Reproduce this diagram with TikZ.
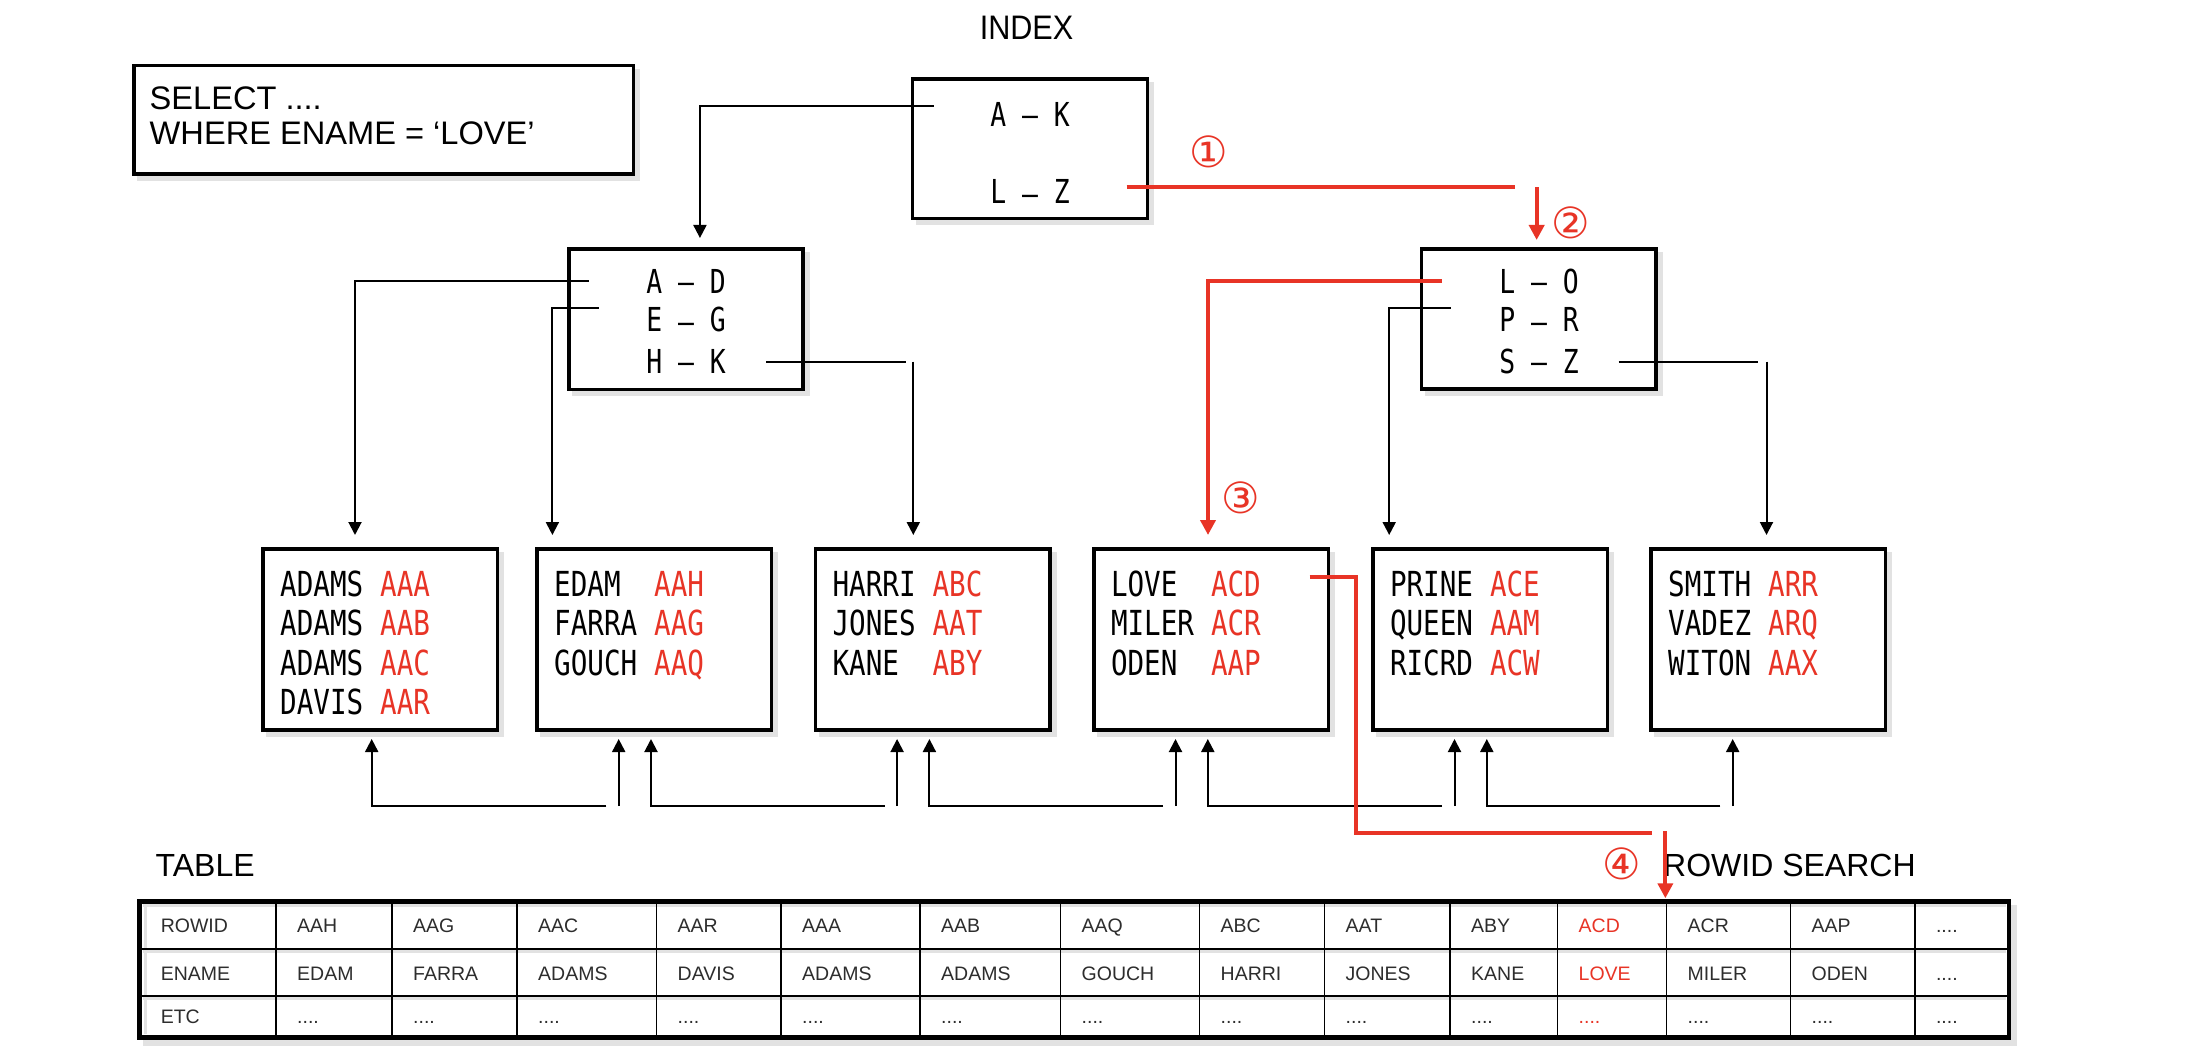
\documentclass[tikz,border=0pt]{standalone}
\usepackage{fontspec}
\setmainfont{Liberation Sans}
\newfontfamily\monof[FakeStretch=0.8]{DejaVu Sans Mono}
\newfontfamily\narrowf[FakeStretch=0.9]{Liberation Sans}
\newfontfamily\circf{DejaVu Sans}
\usetikzlibrary{arrows.meta,calc,shadows}
\definecolor{rd}{RGB}{232,52,38}
\definecolor{shd}{RGB}{226,226,226}
\definecolor{celltext}{RGB}{45,45,45}
\newcommand{\lowd}{\raisebox{-0.06em}{–}}
\newcommand{\dotsf}{....}
\newcommand{\leafrow}[5]{\node[mono] (#1) at (#2,#3) {\makebox[100pt][l]{#4}\textcolor{rd}{#5}};}
\begin{document}
\begin{tikzpicture}[x=1pt,y=-1pt,
  boxs/.style={draw=black, line width=3.5pt, fill=white, inner sep=0pt, outer sep=0pt,
    general shadow={fill=shd, draw=shd, shadow xshift=5pt, shadow yshift=-5pt}},
  conn/.style={line width=2pt, -{Triangle[length=13pt,width=13pt]}},
  plain/.style={line width=2pt},
  redc/.style={draw=rd, line width=4.2pt},
  redarr/.style={draw=rd, line width=4.2pt, -{Triangle[length=15pt,width=15pt]}},
  mono/.style={font=\fontsize{34.5}{40}\monof, inner sep=0pt, anchor=base west},
  idx/.style={font=\fontsize{33}{40}\monof, inner sep=0pt, anchor=base},
  sqlt/.style={font=\fontsize{32.6}{40}\selectfont, inner sep=0pt, anchor=base west},
  lbl/.style={font=\fontsize{32}{40}\selectfont, inner sep=0pt, anchor=base west},
  circ/.style={font=\fontsize{43}{43}\circf, text=rd, inner sep=0pt},
  cellt/.style={font=\fontsize{19.5}{21}\selectfont, text=celltext, inner sep=0pt, anchor=base west}
]
\useasboundingbox (0,0) rectangle (2188,1064);
\fill[white] (0,0) rectangle (2188,1064);

% labels
\node[font=\fontsize{34}{40}\narrowf, inner sep=0pt, anchor=base] (idxlbl) at (1026.5,40) {INDEX};

% SQL box
\node[boxs, minimum width=499.5pt, minimum height=108.3pt] (sql) at (383.75,119.85) {};
\node[sqlt] (sql1) at (149.5,110) {SELECT ....};
\node[sqlt] (sql2) at (149.5,145) {WHERE ENAME = ‘LOVE’};

% root block
\node[boxs, minimum width=235pt, minimum height=139.3pt] (root) at (1030.2,148.65) {};
\node[idx] (rak) at (1030,127) {A – K};
\node[idx] (rlz) at (1030,203.7) {L \lowd{} Z};

% branch blocks
\node[boxs, minimum width=234.1pt, minimum height=140.3pt] (ad) at (685.95,319.15) {};
\node[idx] (ad1) at (686,293.8) {A – D};
\node[idx] (ad2) at (686,332) {E \lowd{} G};
\node[idx] (ad3) at (686,373.7) {H – K};

\node[boxs, minimum width=234.3pt, minimum height=140pt] (lo) at (1538.65,319) {};
\node[idx] (lo1) at (1539,293.8) {L – O};
\node[idx] (lo2) at (1539,332) {P \lowd{} R};
\node[idx] (lo3) at (1539,373.7) {S – Z};

% leaf blocks
\foreach \n/\L in {1/263,2/537,3/815.4,4/1093.8,5/1372.8,6/1651}
  \node[boxs, minimum width=234.5pt, minimum height=181pt, anchor=north west] (leaf\n) at (\L,549) {};

\leafrow{a1}{280}{596}{ADAMS}{AAA}
\leafrow{a2}{280}{635.5}{ADAMS}{AAB}
\leafrow{a3}{280}{675}{ADAMS}{AAC}
\leafrow{a4}{280}{714.5}{DAVIS}{AAR}
\leafrow{b1}{554}{596}{EDAM}{AAH}
\leafrow{b2}{554}{635.5}{FARRA}{AAG}
\leafrow{b3}{554}{675}{GOUCH}{AAQ}
\leafrow{c1}{832.4}{596}{HARRI}{ABC}
\leafrow{c2}{832.4}{635.5}{JONES}{AAT}
\leafrow{c3}{832.4}{675}{KANE}{ABY}
\leafrow{d1}{1110.8}{596}{LOVE}{ACD}
\leafrow{d2}{1110.8}{635.5}{MILER}{ACR}
\leafrow{d3}{1110.8}{675}{ODEN}{AAP}
\leafrow{e1}{1389.8}{596}{PRINE}{ACE}
\leafrow{e2}{1389.8}{635.5}{QUEEN}{AAM}
\leafrow{e3}{1389.8}{675}{RICRD}{ACW}
\leafrow{f1}{1668}{596}{SMITH}{ARR}
\leafrow{f2}{1668}{635.5}{VADEZ}{ARQ}
\leafrow{f3}{1668}{675}{WITON}{AAX}

% index connectors
\draw[conn] ($(root.north west)+(21,27)$) -| ($(ad.north)+(14,-11)$);
\draw[conn] ($(ad.north west)+(20,31.7)$) -| ($(leaf1.north west)+(92,-14)$);
\draw[conn] ($(ad.north west)+(29.8,58.7)$) -| ($(leaf2.north west)+(15.4,-14)$);
\coordinate (hkend) at ($(ad.north west)+(336.8,112.7)$);
\draw[plain] ($(ad.north west)+(197.1,112.7)$) -- (hkend);
\coordinate (hkv) at ($(ad.north west)+(344.4,112.7)$);
\draw[conn] (hkv) -- (hkv |- {$(leaf3.north west)+(0,-14)$});
\draw[conn] ($(lo.north west)+(29.1,58.7)$) -| ($(leaf5.north west)+(16.4,-14)$);
\coordinate (szend) at ($(lo.north west)+(336.5,112.7)$);
\draw[plain] ($(lo.north west)+(197,112.7)$) -- (szend);
\coordinate (szv) at ($(lo.north west)+(345,112.7)$);
\draw[conn] (szv) -- (szv |- {$(leaf6.north west)+(0,-14)$});

% leaf sibling connectors
\foreach \a/\b/\off in {1/2/108.7,2/3/114,3/4/114,4/5/114,5/6/114}{
  \draw[conn] ($(leaf\b.south west)+(69.3,76)$) -| ($(leaf\a.south west)+(\off,9)$);
  \draw[conn] ($(leaf\b.south west)+(81.7,76)$) -- ($(leaf\b.south west)+(81.7,9)$);
}

% table
\node[draw=black, line width=4.5pt, minimum width=1869.4pt, minimum height=136pt, inner sep=0pt, fill=white,
  general shadow={fill=shd, draw=shd, shadow xshift=6pt, shadow yshift=-6pt}] (tbl) at (1074.3,969.5) {};
\draw[shd, line width=3pt] (143,905.5) -- (2006,905.5);
\draw[shd, line width=3pt] (145,905) -- (145,1034);
\foreach \y in {948.8,995.8}{
  \draw[shd, line width=3pt] (143,\y+3) -- (2006,\y+3);
  \draw[line width=2.4pt] (139.6,\y) -- (2009,\y);
}
\foreach \x in {276,392,517,656.5,781,920,1060.5,1199.5,1324.5,1450,1557.5,1666.5,1790.5,1914.8}
  \draw[line width=1.8pt] (\x,901.5) -- (\x,1037.5);
\foreach \c/\x/\a/\b/\e/\col in {0/139.6/ROWID/ENAME/ETC/celltext, 1/276/AAH/EDAM/\dotsf/celltext,
  2/392/AAG/FARRA/\dotsf/celltext, 3/517/AAC/ADAMS/\dotsf/celltext, 4/656.5/AAR/DAVIS/\dotsf/celltext,
  5/781/AAA/ADAMS/\dotsf/celltext, 6/920/AAB/ADAMS/\dotsf/celltext, 7/1060.5/AAQ/GOUCH/\dotsf/celltext,
  8/1199.5/ABC/HARRI/\dotsf/celltext, 9/1324.5/AAT/JONES/\dotsf/celltext, 10/1450/ABY/KANE/\dotsf/celltext,
  11/1557.5/ACD/LOVE/\dotsf/rd, 12/1666.5/ACR/MILER/\dotsf/celltext, 13/1790.5/AAP/ODEN/\dotsf/celltext,
  14/1914.8/\dotsf/\dotsf/\dotsf/celltext}{
  \node[cellt, text=\col] (ra\c) at (\x+21,932.7) {\a};
  \node[cellt, text=\col] (rb\c) at (\x+21,980) {\b};
  \node[cellt, text=\col] (rc\c) at (\x+21,1023.5) {\e};
}
\node[lbl] (tbllbl) at (155.5,876.5) {TABLE};
\node[lbl] (rslbl) at (1663,876.5) {ROWID SEARCH};

% red search path
\coordinate (r1end) at ($(root.north east)+(367.3,108.3)$);
\draw[redc] ($(root.north east)+(-21,108.3)$) -- (r1end);
\coordinate (r2s) at ($(lo.north)+(-2,-61.7)$);
\draw[redarr] (r2s) -- ($(lo.north)+(-2,-9)$);
\draw[redarr] ($(lo.north west)+(20,32)$) -| ($(leaf4.north west)+(114.2,-14)$);
\coordinate (r4end) at ($(leaf4.north west)+(558.2,284.3)$);
\draw[redc] ($(leaf4.north west)+(215.8,28.3)$) -| ($(leaf4.north west)+(262.2,284.3)$) -- (r4end);
\coordinate (r5s) at ($(tbl.north west)+(1528,-68.2)$);
\draw[redarr] (r5s) -- ($(tbl.north west)+(1528,-1)$);

% step numbers
\node[circ] (n1) at (1209,151.7) {①};
\node[circ] (n2) at (1571,222.5) {②};
\node[circ] (n3) at (1241,498) {③};
\node[circ] (n4) at (1622,864) {④};
\end{tikzpicture}
\end{document}
